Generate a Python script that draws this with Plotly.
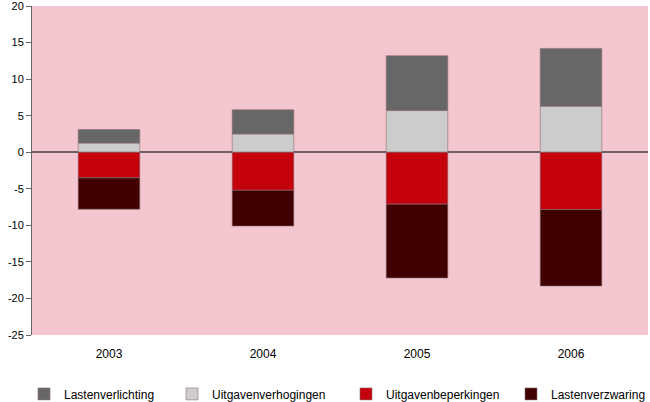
import plotly.graph_objects as go

years = ["2003", "2004", "2005", "2006"]
lastenverlichting = [1.85, 3.3, 7.5, 7.9]
uitgavenverhogingen = [1.25, 2.5, 5.7, 6.3]
uitgavenbeperkingen = [-3.5, -5.2, -7.1, -7.85]
lastenverzwaring = [-4.3, -4.9, -10.1, -10.45]
y_ticks = [20, 15, 10, 5, 0, -5, -10, -15, -20, -25]
y_tick_labels = ["20", "15", "10", "5", "0", "-5", "-10", "-15", "-20", "-25"]

fig = go.Figure()
line = dict(color="rgba(140,110,115,0.6)", width=1)
fig.add_bar(x=years, y=uitgavenverhogingen, name="Uitgavenverhogingen",
            marker=dict(color="#cccccc", line=line), legend="legend2")
fig.add_bar(x=years, y=lastenverlichting, name="Lastenverlichting",
            marker=dict(color="#676767", line=line), legend="legend")
fig.add_bar(x=years, y=uitgavenbeperkingen, name="Uitgavenbeperkingen",
            marker=dict(color="#c4000c", line=line), legend="legend3")
fig.add_bar(x=years, y=lastenverzwaring, name="Lastenverzwaring",
            marker=dict(color="#400000", line=line), legend="legend4")

L = 32
W = 650 - 32 - 2


def leg(px):
    return dict(orientation="h", x=(px - L) / W, y=-0.135, xanchor="left",
                yanchor="top", font=dict(size=12), bgcolor="rgba(0,0,0,0)")


fig.update_layout(
    barmode="relative",
    bargap=0.6,
    width=650, height=402,
    margin=dict(l=L, r=2, t=6, b=67, autoexpand=False),
    paper_bgcolor="white",
    plot_bgcolor="#f4c6cf",
    font=dict(family="Liberation Sans, Arial, sans-serif", size=12, color="#000000"),
    legend=leg(24),
    legend2=leg(172),
    legend3=leg(346),
    legend4=leg(511),
    showlegend=True,
)
fig.update_yaxes(range=[-25, 20], tickvals=y_ticks, ticktext=y_tick_labels,
                 showgrid=False, automargin=False, ticklabeloverflow="allow",
                 showline=True, linecolor="#666666", linewidth=1,
                 ticks="outside", ticklen=5, tickcolor="#666666",
                 zeroline=True, zerolinecolor="#6e6266", zerolinewidth=2,
                 tickfont=dict(size=11))
fig.update_xaxes(showgrid=False, showline=False, ticks="", automargin=False,
                 ticklabelstandoff=10)

fig.write_html("out.html", config={"displayModeBar": False},
               post_script="document.body.style.margin='0';")
